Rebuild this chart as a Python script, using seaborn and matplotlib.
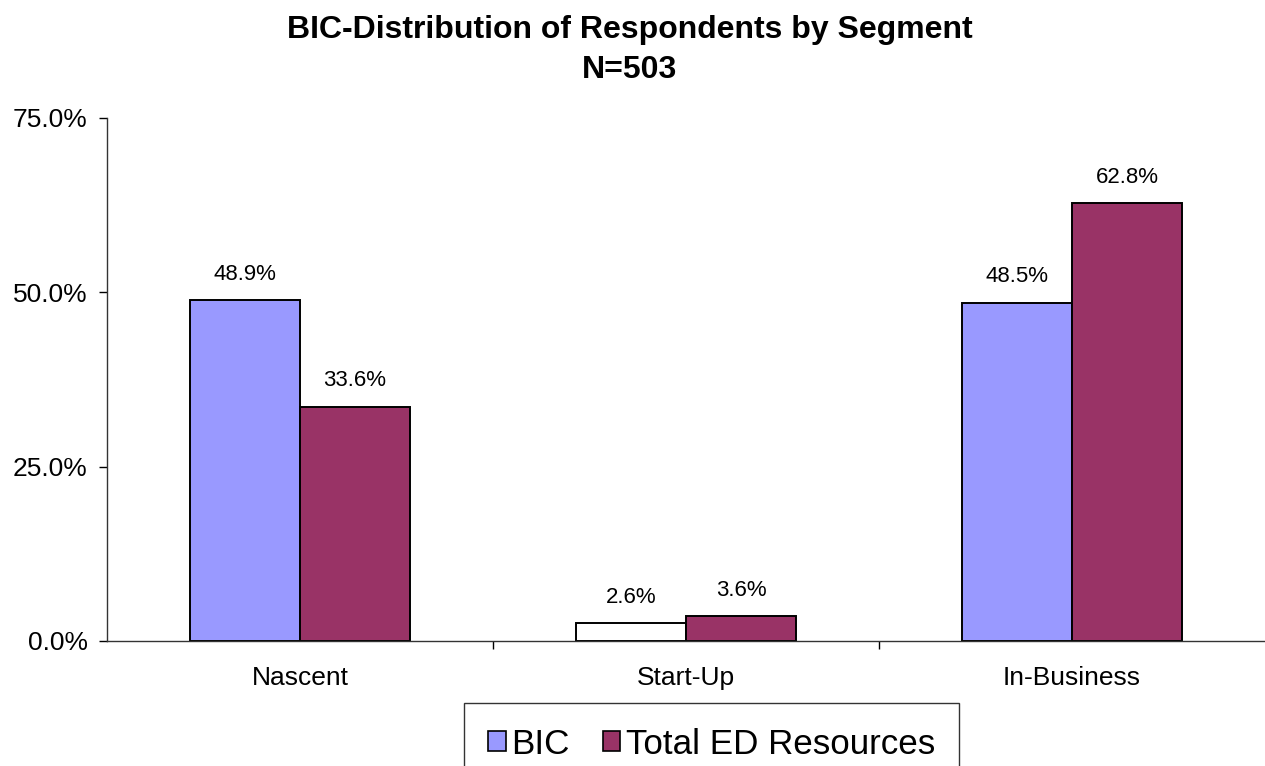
import matplotlib
matplotlib.use("Agg")
import matplotlib.pyplot as plt
from matplotlib.patches import Patch
from matplotlib.ticker import FormatStrFormatter, FixedLocator
import seaborn as sns
import pandas as pd

segments = ["Nascent", "Start-Up", "In-Business"]
series = ["BIC", "Total ED Resources"]
bic = [48.9, 2.6, 48.5]
total_ed = [33.6, 3.6, 62.8]

colors = {"BIC": "#9999FF", "Total ED Resources": "#993366"}

df = pd.DataFrame({
    "segment": segments * 2,
    "series": [series[0]] * 3 + [series[1]] * 3,
    "value": bic + total_ed,
})

sns.set_style("white", {"text.color": "black", "xtick.color": "black",
                        "ytick.color": "black", "axes.labelcolor": "black"})
plt.rcParams["font.family"] = ["Liberation Sans", "DejaVu Sans"]

fig = plt.figure(figsize=(12.65, 7.66), dpi=100)
ax = fig.add_axes([0.0846, 0.1632, 0.9154, 0.6828])

sns.barplot(
    data=df, x="segment", y="value", hue="series", order=segments,
    hue_order=series, palette=colors, width=0.57, gap=0,
    edgecolor="black", linewidth=1.4, saturation=1, legend=False, ax=ax,
)

# the Start-Up BIC bar is drawn unfilled in the original
ax.containers[0][1].set_facecolor("white")

for cont in ax.containers:
    ax.bar_label(cont, fmt="%.1f%%", padding=11, fontsize=16, color="black")

ax.set_xlim(-0.5, 2.5)
ax.set_ylim(0, 75)
ax.set_yticks([0, 25, 50, 75])
ax.yaxis.set_major_formatter(FormatStrFormatter("%.1f%%"))
ax.xaxis.set_minor_locator(FixedLocator([0.5, 1.5]))
ax.tick_params(axis="y", direction="out", length=6, width=1, pad=8,
               labelsize=19, left=True)
ax.tick_params(axis="x", which="major", length=0, pad=18, labelsize=19)
ax.tick_params(axis="x", which="minor", direction="out", length=6, width=1,
               bottom=True)
ax.set_xlabel("")
ax.set_ylabel("")

sns.despine(ax=ax, top=True, right=True)
for side in ["left", "bottom"]:
    ax.spines[side].set_color("#333333")
    ax.spines[side].set_linewidth(1)

fig.suptitle("BIC-Distribution of Respondents by Segment\nN=503",
             x=0.498, y=0.98, fontsize=23, fontweight="bold", linespacing=1.42,
             color="black")

handles = [Patch(facecolor=colors[s], edgecolor="black", linewidth=1.2)
           for s in series]
fig.legend(handles, series, loc="upper center", bbox_to_anchor=(0.5625, 0.0822),
           ncol=2, frameon=True, fancybox=False, edgecolor="black",
           fontsize=25.2, handlelength=0.5, handleheight=0.5,
           handletextpad=0.15, columnspacing=0.95, borderpad=0.7,
           borderaxespad=0)

fig.savefig("out.png", dpi=100)
